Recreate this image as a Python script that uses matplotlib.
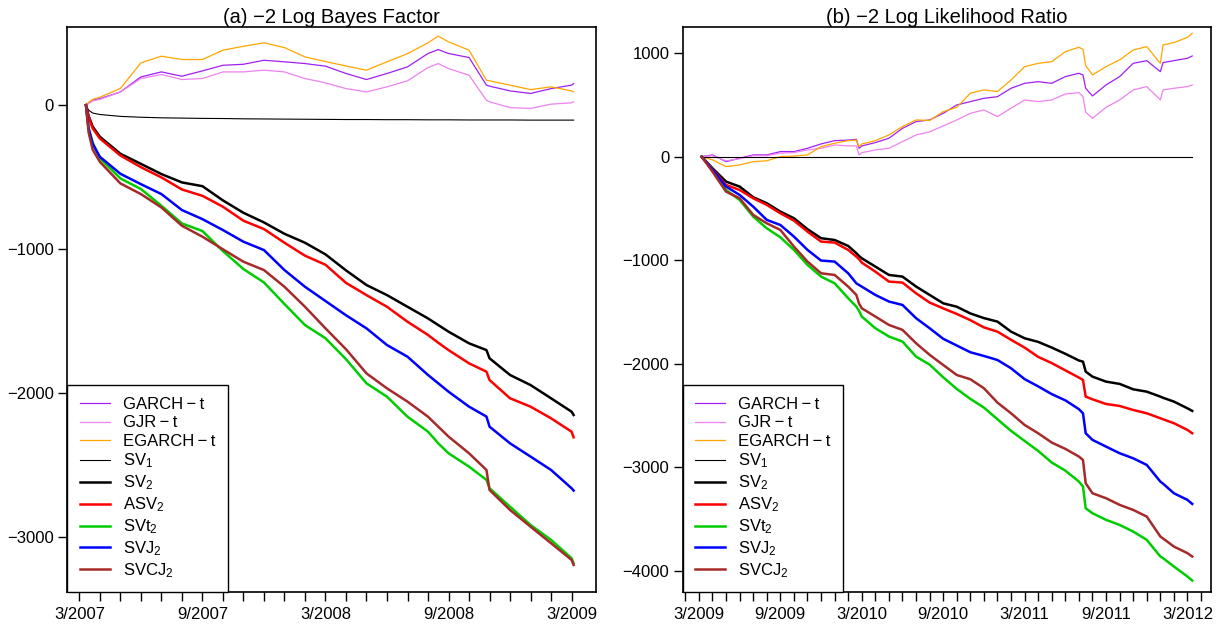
import matplotlib.pyplot as plt

plt.rcParams['font.family'] = ['Liberation Sans', 'DejaVu Sans']
plt.rcParams['mathtext.fontset'] = 'custom'
plt.rcParams['mathtext.rm'] = 'Liberation Sans'
plt.rcParams['mathtext.it'] = 'Liberation Sans:italic'

# panel (a): months since 3/2007
monthsA = [0.32, 0.45, 0.65, 1, 2, 3, 4, 5, 6, 7, 8, 9, 10, 11, 12, 13, 14, 15, 16, 17,
           17.5, 18, 19, 19.85, 20, 21, 22, 23, 24, 24.1]
garchA = [0, 15, 35, 45, 92, 196, 231, 201, 238, 277, 284, 312, 301, 289, 271, 220, 178, 220, 266, 359,
          386, 359, 331, 139, 132, 99, 81, 115, 139, 150]
gjrA = [0, 12, 30, 40, 92, 185, 213, 178, 185, 231, 231, 243, 231, 185, 155, 115, 92, 127, 169, 261,
        289, 254, 208, 34, 23, -17, -23, 7, 16, 23]
egarchA = [0, 20, 40, 55, 116, 294, 340, 317, 317, 382, 409, 433, 400, 335, 303, 272, 243, 301, 358, 433,
           480, 440, 382, 173, 169, 139, 108, 127, 99, 92]
sv1A = [0, -35, -55, -65, -78, -84, -88, -90, -92, -93, -95, -96, -97, -98, -99, -100, -100, -101, -101, -102,
        -102, -102, -103, -103, -103, -103, -104, -104, -104, -104]
sv2A = [0, -75, -150, -220, -338, -408, -479, -537, -563, -662, -748, -815, -894, -956, -1037, -1148, -1250,
        -1320, -1401, -1482, -1528, -1574, -1655, -1702, -1759, -1875, -1945, -2037, -2130, -2153]
asv2A = [0, -81, -162, -232, -350, -431, -502, -586, -630, -706, -803, -861, -956, -1046, -1109, -1235, -1320,
         -1401, -1505, -1597, -1651, -1702, -1794, -1852, -1910, -2037, -2095, -2176, -2269, -2308]
svt2A = [0, -162, -260, -370, -509, -583, -699, -822, -875, -1014, -1139, -1232, -1382, -1528, -1620, -1765,
         -1933, -2026, -2165, -2269, -2350, -2419, -2512, -2604, -2662, -2790, -2917, -3021, -3148, -3183]
svj2A = [0, -162, -270, -359, -477, -549, -618, -729, -792, -868, -949, -1007, -1146, -1262, -1361, -1460,
         -1551, -1667, -1748, -1875, -1933, -1991, -2095, -2164, -2234, -2350, -2442, -2535, -2662, -2678]
svcj2A = [0, -190, -310, -394, -544, -618, -711, -838, -914, -1002, -1088, -1146, -1262, -1401, -1551, -1696,
          -1864, -1968, -2060, -2165, -2234, -2303, -2419, -2535, -2674, -2813, -2929, -3044, -3160, -3195]

# panel (b): months since 3/2009
monthsB = [0.2, 1, 2, 3, 4, 5, 6, 7, 8, 9, 10, 11, 11.6, 11.8, 12, 13, 14, 15, 16, 17, 18, 19, 20, 21, 22,
           23, 24, 25, 26, 27, 28, 28.3, 28.5, 29, 30, 31, 32, 33, 34, 34.2, 35, 36, 36.35]
garchB = [0, 17, -48, -15, 17, 17, 49, 49, 81, 123, 155, 160, 168, 81, 104, 136, 178, 274, 339, 355, 419,
          500, 532, 564, 580, 661, 709, 725, 709, 774, 806, 790, 660, 587, 693, 774, 902, 928, 822, 909,
          928, 951, 973]
gjrB = [0, 10, -40, -20, 10, 10, 35, 40, 65, 81, 113, 104, 104, 17, 39, 65, 81, 146, 210, 240, 297, 355,
        419, 452, 387, 468, 548, 532, 548, 606, 619, 580, 430, 371, 477, 548, 645, 677, 548, 645, 661,
        677, 693]
egarchB = [0, -31, -96, -80, -48, -40, 1, 5, 17, 97, 130, 155, 160, 97, 123, 155, 210, 291, 355, 350, 435,
           477, 613, 645, 629, 741, 870, 902, 918, 1015, 1057, 1038, 880, 790, 870, 935, 1031, 1063, 902,
           1080, 1102, 1153, 1192]
sv1B = [0] * len(monthsB)
sv2B = [0, -112, -241, -289, -392, -450, -531, -595, -701, -788, -805, -863, -933, -960, -982, -1062, -1143,
        -1159, -1255, -1336, -1417, -1450, -1515, -1560, -1594, -1691, -1755, -1790, -1845, -1905, -1970,
        -1981, -2077, -2126, -2174, -2196, -2248, -2271, -2319, -2330, -2367, -2432, -2457]
asv2B = [0, -122, -273, -322, -402, -466, -547, -618, -724, -821, -830, -901, -966, -990, -1024, -1111,
         -1207, -1217, -1320, -1410, -1466, -1520, -1580, -1650, -1691, -1770, -1845, -1935, -1995, -2065,
         -2135, -2158, -2319, -2345, -2390, -2409, -2448, -2480, -2528, -2538, -2576, -2641, -2673]
svt2B = [0, -128, -322, -418, -579, -692, -779, -901, -1046, -1159, -1224, -1368, -1449, -1490, -1545,
         -1658, -1738, -1787, -1932, -2010, -2132, -2245, -2341, -2425, -2538, -2650, -2747, -2844, -2956,
         -3034, -3140, -3188, -3398, -3446, -3510, -3559, -3623, -3703, -3864, -3880, -3961, -4058, -4096]
svj2B = [0, -128, -289, -370, -483, -611, -660, -772, -901, -1004, -1014, -1127, -1224, -1240, -1256, -1336,
         -1400, -1433, -1561, -1658, -1760, -1825, -1890, -1926, -1965, -2045, -2150, -2220, -2295, -2355,
         -2440, -2480, -2673, -2737, -2802, -2866, -2915, -2979, -3140, -3160, -3253, -3317, -3356]
svcj2B = [0, -145, -338, -402, -563, -644, -708, -869, -1014, -1127, -1143, -1256, -1336, -1420, -1465,
          -1545, -1626, -1674, -1803, -1915, -2013, -2110, -2151, -2238, -2377, -2480, -2593, -2673, -2763,
          -2824, -2898, -2931, -3156, -3253, -3301, -3365, -3414, -3478, -3671, -3690, -3768, -3832, -3864]

modelNames = ['GARCH\u2009\u2212\u2009t', 'GJR\u2009\u2212\u2009t', 'EGARCH\u2009\u2212\u2009t',
              'SV$_1$', 'SV$_2$', 'ASV$_2$', 'SVt$_2$', 'SVJ$_2$', 'SVCJ$_2$']
modelColors = ['#A020F0', '#EE82EE', '#FFA500', 'black', 'black', '#FF0000', '#00CD00', '#0000FF', '#A52A2A']
modelWidths = [0.9, 0.9, 0.9, 0.8, 1.8, 1.8, 1.8, 1.8, 1.8]

ticksA = [0, 6, 12, 18, 24]
tickLabelsA = ['3/2007', '9/2007', '3/2008', '9/2008', '3/2009']
ticksB = [0, 6, 12, 18, 24, 30, 36]
tickLabelsB = ['3/2009', '9/2009', '3/2010', '9/2010', '3/2011', '9/2011', '3/2012']
yticksA = [0, -1000, -2000, -3000]
yticksB = [1000, 0, -1000, -2000, -3000, -4000]


def drawPanel(ax, months, series, title, xt, xtl, minor, yt, xlim, ylim):
  for vals, name, col, lw in zip(series, modelNames, modelColors, modelWidths):
    ax.plot(months, vals, color=col, lw=lw, label=name)
  ax.set_xlim(*xlim)
  ax.set_ylim(*ylim)
  ax.set_xticks(xt)
  ax.set_xticklabels(xtl)
  ax.set_xticks(minor, minor=True)
  ax.set_yticks(yt)
  ax.set_yticklabels([str(v).replace('-', '\u2212') for v in yt])
  ax.tick_params(which='both', direction='out', length=6.5, width=1.0, labelsize=12, pad=3)
  ax.tick_params(axis='x', pad=4)
  for s in ax.spines.values():
    s.set_linewidth(1.2)
  ax.set_title(title, fontsize=14.5, pad=2)
  leg = ax.legend(loc='lower left', bbox_to_anchor=(0, 0), borderaxespad=0, fancybox=False,
                  edgecolor='black', framealpha=1, fontsize=12, handlelength=1.8,
                  handletextpad=0.8, labelspacing=0.19, borderpad=0.75)
  leg.get_frame().set_linewidth(1.0)


fig = plt.figure(figsize=(12.19, 6.33), dpi=100)
axA = fig.add_axes([0.0552, 0.0643, 0.4337, 0.8935])
axB = fig.add_axes([0.5600, 0.0643, 0.4334, 0.8935])

drawPanel(axA, monthsA, [garchA, gjrA, egarchA, sv1A, sv2A, asv2A, svt2A, svj2A, svcj2A],
          '(a) \u22122 Log Bayes Factor', ticksA, tickLabelsA, list(range(0, 25)), yticksA,
          (-0.59, 25.19), (-3385, 545))
drawPanel(axB, monthsB, [garchB, gjrB, egarchB, sv1B, sv2B, asv2B, svt2B, svj2B, svcj2B],
          '(b) \u22122 Log Likelihood Ratio', ticksB, tickLabelsB, list(range(-1, 38)), yticksB,
          (-1.2, 37.73), (-4210, 1256))

fig.savefig('out.png', dpi=100)
